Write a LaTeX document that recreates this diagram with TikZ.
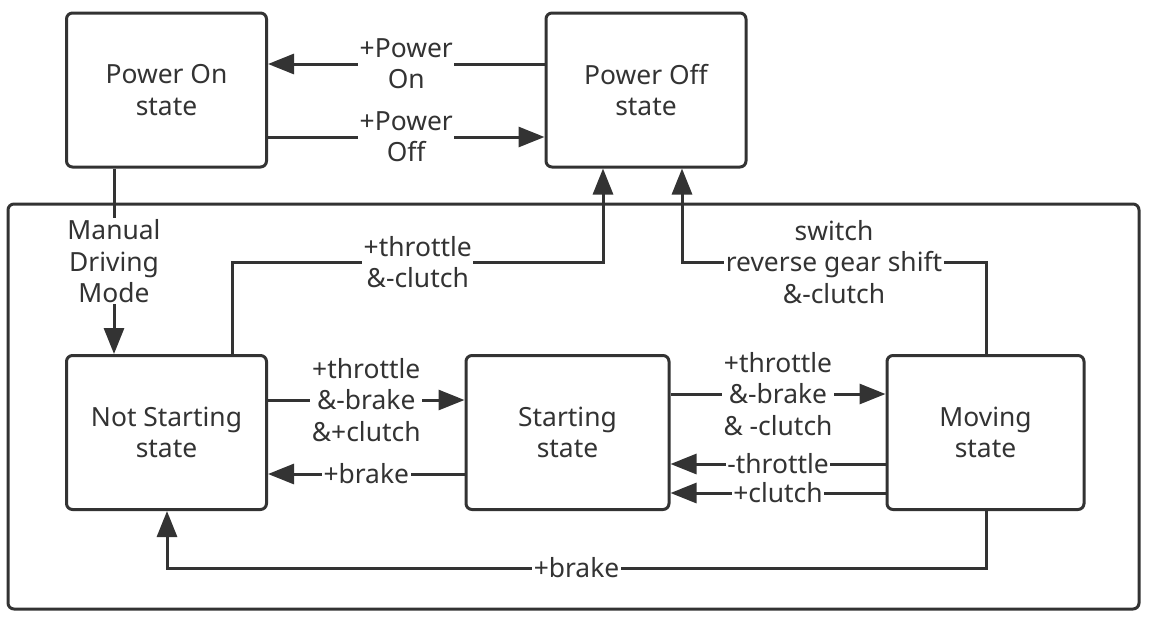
\documentclass[tikz,border=0pt]{standalone}
\usepackage{fontspec}
\setmainfont{Noto Sans}
\usetikzlibrary{arrows.meta,positioning,calc}
\definecolor{paper}{HTML}{FFFFFF}
\definecolor{ink}{HTML}{333333}
\newcommand{\TopY}{90}
\newcommand{\LowY}{432.5}
\newcommand{\BusY}{262}
\newcommand{\BackY}{568}

\begin{document}
\begin{tikzpicture}[
    x=0.5pt, y=-0.5pt,
    font=\fontsize{13.2}{15.6}\selectfont, ink,
    edge/.style={-{Triangle[length=13pt, width=10pt]}, line width=1.5pt, draw=ink},
    state/.style={draw=ink, line width=1.5pt, rounded corners=3pt, fill=paper, align=center, minimum width=100pt, minimum height=77pt, inner sep=2pt},
    lbl/.style={fill=paper, align=center, inner sep=0.8pt},
  ]
\useasboundingbox (0,0) rectangle (1160,632);

% --- The manual driving mode frame ---------------------------------------------
\draw[line width=1.5pt, rounded corners=3pt] (8,204) rectangle (1139,609);

% --- The states ------------------------------------------------------------------
\node[state] (pon)  at (166.5, \TopY) {Power On\\state};
\node[state] (poff) at (646, \TopY) {Power Off\\state};
\node[state] (ns)   at (166.5, \LowY) {Not Starting\\state};
\node[state, minimum width=101.5pt] (st) at (567.5, \LowY) {Starting\\state};
\node[state, minimum width=98.5pt]  (mv) at (985.5, \LowY) {Moving\\state};

% --- Bends of the long connectors --------------------------------------------------
\coordinate (manual) at (114, 0);
\coordinate (cutA) at (232.5, \BusY);
\coordinate (cutB) at (603, \BusY);
\coordinate (revA) at (986, \BusY);
\coordinate (revB) at (682, \BusY);
\coordinate (backA) at (986, \BackY);
\coordinate (backB) at (167, \BackY);

% --- Power on / off ----------------------------------------------------------------
\draw[edge] ([yshift=13pt]poff.west) -- node[lbl] {+Power\\On} ([yshift=13pt]pon.east);
\draw[edge] ([yshift=-23.5pt]pon.east) -- node[lbl] {+Power\\Off} ([yshift=-23.5pt]poff.west);
\draw[edge] (pon.south -| manual) -- node[lbl] {Manual\\Driving\\Mode} (ns.north -| manual);

% --- Back to power off ---------------------------------------------------------------
\draw[edge] (ns.north -| cutA) -- (cutA) -- node[lbl] {+throttle\\\&-clutch} (cutB) -- (poff.south -| cutB);
\draw[edge] (mv.north -| revA) -- (revA) -- node[lbl] {switch\\reverse gear shift\\\&-clutch} (revB) -- (poff.south -| revB);

% --- Between the driving states ----------------------------------------------------------
\draw[edge] ([yshift=16.25pt]ns.east) -- node[lbl] {+throttle\\\&-brake\\\&+clutch} ([yshift=16.25pt]st.west);
\draw[edge] ([yshift=-20.75pt]st.west) -- node[lbl] {+brake} ([yshift=-20.75pt]ns.east);
\draw[edge] ([yshift=19.25pt]st.east) -- node[lbl] {+throttle\\\&-brake\\\& -clutch} ([yshift=19.25pt]mv.west);
\draw[edge] ([yshift=-15.75pt]mv.west) -- node[lbl] {-throttle} ([yshift=-15.75pt]st.east);
\draw[edge] ([yshift=-30.25pt]mv.west) -- node[lbl] {+clutch} ([yshift=-30.25pt]st.east);
\draw[edge] (mv.south -| backA) -- (backA) -- node[lbl] {+brake} (backB) -- (ns.south -| backB);

\end{tikzpicture}
\end{document}
